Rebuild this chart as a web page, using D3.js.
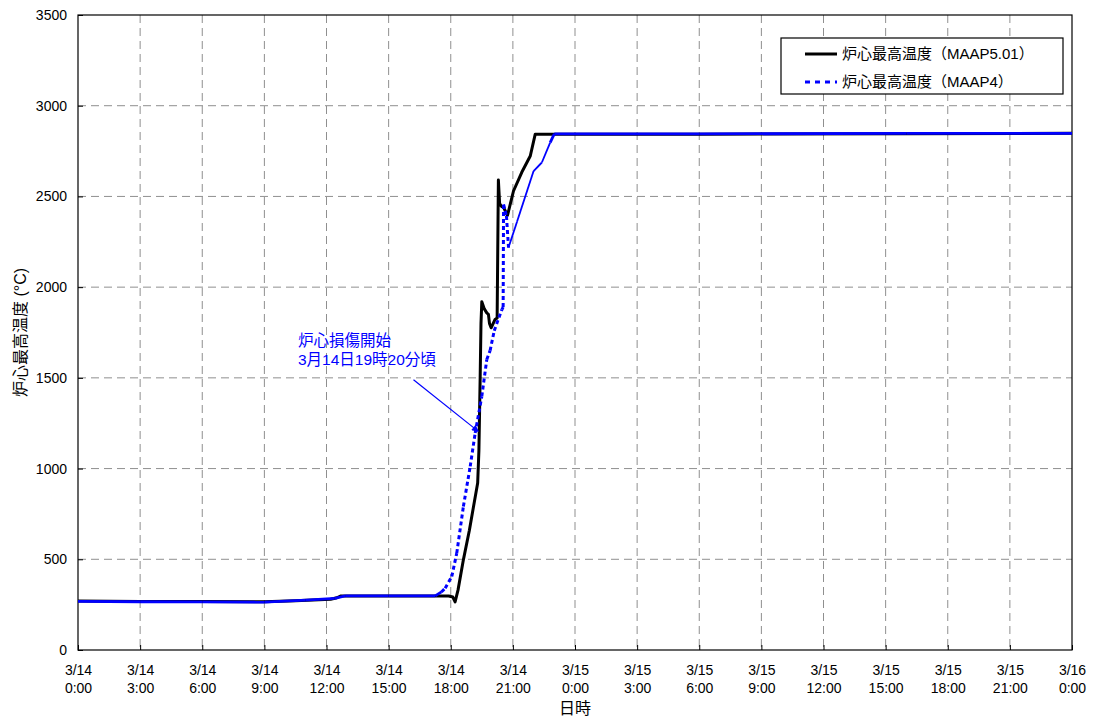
<!DOCTYPE html>
<html>
<head>
<meta charset="utf-8">
<script src="https://cdn.jsdelivr.net/npm/d3@7"></script>
<style>
  html, body { margin: 0; padding: 0; background: #fff; }
  svg { display: block; }
  text { font-family: "Liberation Sans", Arial, "Noto Sans CJK JP", sans-serif; fill: #000; }
</style>
</head>
<body>
<svg id="chart" width="1094" height="722"></svg>
<script>
// ---- data (hours since 3/14 0:00, core max temperature °C) ----
const seriesNames = ["炉心最高温度（MAAP5.01）", "炉心最高温度（MAAP4）"];
const maap501Hours = [0, 3, 6, 9, 10.5, 12.2, 12.5, 12.7, 15, 17.9, 18.1, 18.21, 18.35, 18.61, 18.9, 19.1, 19.3, 19.36, 19.42, 19.46, 19.5, 19.62, 19.74, 19.82, 19.87, 19.95, 20.14, 20.24, 20.3, 20.36, 20.45, 20.55, 20.74, 21.03, 21.43, 21.84, 22.08, 30, 40, 48];
const maap501Temps = [270, 268, 267, 266, 272, 280, 288, 298, 298, 298, 292, 265, 330, 497, 660, 791, 920, 1100, 1500, 1800, 1920, 1880, 1858, 1850, 1800, 1776, 1822, 1830, 2590, 2460, 2445, 2440, 2395, 2530, 2633, 2723, 2843, 2843, 2846, 2848];
const maap4Hours = [0, 3, 6, 9, 11, 12.4, 12.9, 15, 17.25, 17.55, 17.73, 18.05, 18.29, 18.61, 18.94, 19.18, 19.5, 19.74, 19.9, 20.1, 20.47, 20.53, 20.55, 20.63, 20.69, 20.79, 21.2, 22.0, 22.4, 22.8, 23.0, 30, 40, 48];
const maap4Temps = [268, 266, 265, 264, 275, 285, 298, 298, 298, 320, 341, 405, 534, 791, 1012, 1196, 1398, 1601, 1650, 1760, 1877, 1890, 2456, 2420, 2392, 2218, 2360, 2640, 2687, 2797, 2845, 2845, 2847, 2848];
const xTickHours = [0, 3, 6, 9, 12, 15, 18, 21, 24, 27, 30, 33, 36, 39, 42, 45, 48];
const xTickDates = ["3/14","3/14","3/14","3/14","3/14","3/14","3/14","3/14","3/15","3/15","3/15","3/15","3/15","3/15","3/15","3/15","3/16"];
const xTickTimes = ["0:00","3:00","6:00","9:00","12:00","15:00","18:00","21:00","0:00","3:00","6:00","9:00","12:00","15:00","18:00","21:00","0:00"];
const yTicks = [0, 500, 1000, 1500, 2000, 2500, 3000, 3500];
const annotationLines = ["炉心損傷開始", "3月14日19時20分頃"];
const annotationFrom = [16.2, 1490];
const annotationTo = [19.33, 1205];
const xTitle = "日時";
const yTitle = "炉心最高温度 (°C)";

// ---- layout / style ----
const svg = d3.select("#chart");
const L = 78, R = 1072, T = 15, B = 650;
const x = d3.scaleLinear().domain([0, 48]).range([L, R]);
const y = d3.scaleLinear().domain([0, 3500]).range([B, T]);
const dottedWindow = [17.5, 20.8]; // style: span where the sparse dotted look is visible

const gridColor = "#8f8f8f";
svg.append("g").selectAll("line").data(xTickHours.filter(h => h > 0 && h < 48)).join("line")
  .attr("x1", d => x(d)).attr("x2", d => x(d)).attr("y1", T).attr("y2", B)
  .attr("stroke", gridColor).attr("stroke-width", 1).attr("stroke-dasharray", "8,5");
svg.append("g").selectAll("line").data(yTicks.filter(v => v > 0 && v < 3500)).join("line")
  .attr("y1", d => y(d)).attr("y2", d => y(d)).attr("x1", L).attr("x2", R)
  .attr("stroke", gridColor).attr("stroke-width", 1).attr("stroke-dasharray", "8,5");

// axes
const yAxis = svg.append("g").attr("transform", `translate(${L},0)`)
  .call(d3.axisLeft(y).tickValues(yTicks).tickSize(-5).tickPadding(11).tickFormat(d3.format("d")));
yAxis.select(".domain").remove();
yAxis.selectAll("line").attr("stroke", "#000");
yAxis.selectAll("text").style("font-size", "14px").attr("fill", "#000");

const xAxis = svg.append("g").attr("transform", `translate(0,${B})`)
  .call(d3.axisBottom(x).tickValues(xTickHours).tickSize(-5).tickFormat(""));
xAxis.select(".domain").remove();
xAxis.selectAll("line").attr("stroke", "#000");
xAxis.selectAll(".tick").each(function(d, i) {
  const t = d3.select(this).select("text").attr("y", 0).attr("dy", null).style("font-size", "14px").attr("fill", "#000");
  t.append("tspan").attr("x", 0).attr("y", 25).text(xTickDates[i]);
  t.append("tspan").attr("x", 0).attr("y", 43).text(xTickTimes[i]);
});

// plot border
svg.append("rect").attr("x", L).attr("y", T).attr("width", R - L).attr("height", B - T)
  .attr("fill", "none").attr("stroke", "#000").attr("stroke-width", 1.2);

// series
const black = maap501Hours.map((h, i) => [h, maap501Temps[i]]);
const blue = maap4Hours.map((h, i) => [h, maap4Temps[i]]);
const line = d3.line().x(d => x(d[0])).y(d => y(d[1]));
svg.append("path").datum(black).attr("d", line)
  .attr("fill", "none").attr("stroke", "#000").attr("stroke-width", 3).attr("stroke-linejoin", "round");

const segs = d3.pairs(blue);
const isDotted = d => d[0][0] >= dottedWindow[0] && d[1][0] <= dottedWindow[1];
const isLate = d => d[0][0] > dottedWindow[1] - 0.05 && d[1][1] < 2840;
svg.append("g").selectAll("path").data(segs).join("path")
  .attr("d", d => line(d))
  .attr("fill", "none").attr("stroke", "#0000ff").attr("stroke-linecap", "butt")
  .attr("stroke-width", d => isDotted(d) ? 3 : (isLate(d) ? 1.8 : 2.8))
  .attr("stroke-dasharray", d => isDotted(d) ? "4,3" : null);

// annotation
const defs = svg.append("defs");
defs.append("marker").attr("id", "arr").attr("viewBox", "0 0 10 10").attr("refX", 9).attr("refY", 5)
  .attr("markerWidth", 9).attr("markerHeight", 7).attr("orient", "auto").attr("markerUnits", "userSpaceOnUse")
  .append("path").attr("d", "M0,0 L10,5 L0,10 Z").attr("fill", "#0000ff");
svg.append("line")
  .attr("x1", x(annotationFrom[0])).attr("y1", y(annotationFrom[1]))
  .attr("x2", x(annotationTo[0])).attr("y2", y(annotationTo[1]))
  .attr("stroke", "#0000ff").attr("stroke-width", 1.2).attr("marker-end", "url(#arr)");
const at = svg.append("text").style("font-size", "15.5px").attr("fill", "#0000ff");
annotationLines.forEach((s, i) => {
  at.append("tspan").attr("x", 298).attr("y", 346 + i * 18.5).attr("fill", "#0000ff").text(s);
});

// legend
const lg = svg.append("g");
lg.append("rect").attr("x", 781).attr("y", 38).attr("width", 282).attr("height", 56)
  .attr("fill", "#fff").attr("stroke", "#000").attr("stroke-width", 1.2);
const legendStyles = [{ c: "#000", dash: null }, { c: "#0000ff", dash: "5,5" }];
seriesNames.forEach((n, i) => {
  const yy = 54 + i * 28;
  lg.append("line").attr("x1", 805).attr("x2", 837).attr("y1", yy).attr("y2", yy)
    .attr("stroke", legendStyles[i].c).attr("stroke-width", 3).attr("stroke-dasharray", legendStyles[i].dash);
  lg.append("text").attr("x", 842).attr("y", yy).attr("dy", "0.36em").style("font-size", "15px").text(n);
});

// axis titles
svg.append("text").attr("x", (L + R) / 2).attr("y", 714).attr("text-anchor", "middle")
  .style("font-size", "16px").text(xTitle);
svg.append("text").attr("transform", `translate(26,${(T + B) / 2}) rotate(-90)`).attr("text-anchor", "middle")
  .style("font-size", "16px").text(yTitle);
</script>
</body>
</html>
